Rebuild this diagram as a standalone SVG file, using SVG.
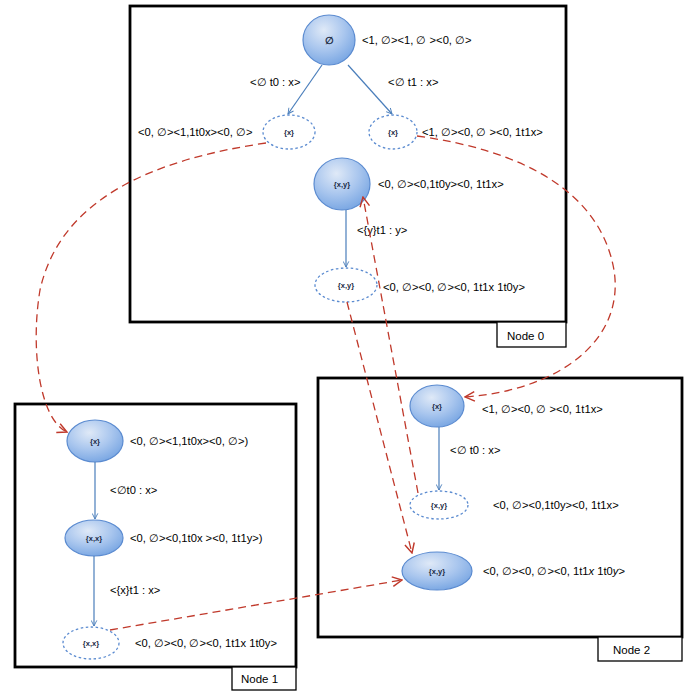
<svg xmlns="http://www.w3.org/2000/svg" width="692" height="696" viewBox="0 0 692 696">
<defs>
<radialGradient id="bl" cx="0.4" cy="0.3" r="0.8">
<stop offset="0" stop-color="#dfe9f7"/>
<stop offset="0.5" stop-color="#a9c6ee"/>
<stop offset="1" stop-color="#6e9fe0"/>
</radialGradient>
<marker id="ab" viewBox="0 0 10 10" refX="9" refY="5" markerWidth="7" markerHeight="7" orient="auto" markerUnits="userSpaceOnUse">
<path d="M1,1 L9,5 L1,9" fill="none" stroke="#4a7ebb" stroke-width="1.3"/>
</marker>
<marker id="ar" viewBox="0 0 10 10" refX="9" refY="5" markerWidth="12" markerHeight="12" orient="auto" markerUnits="userSpaceOnUse">
<path d="M1,1 L9,5 L1,9" fill="none" stroke="#c0392b" stroke-width="1.2"/>
</marker>
</defs>
<style>
.box{fill:none;stroke:#000;stroke-width:2.8}
.lbox{fill:#fff;stroke:#000;stroke-width:1.3}
.st{fill:url(#bl);stroke:#5b8bd0;stroke-width:1.2}
.ds{fill:#fff;stroke:#5b8bd0;stroke-width:1.3;stroke-dasharray:2.5 2.5}
.t{font-family:"Liberation Sans",Arial,sans-serif;font-size:11.2px;fill:#000}
.in{font-family:"Liberation Sans",Arial,sans-serif;font-size:7.5px;font-weight:bold;fill:#1a2a44;text-anchor:middle}
.nl{font-family:"Liberation Sans",Arial,sans-serif;font-size:11.5px;fill:#000}
.ba{stroke:#4a7ebb;stroke-width:1.2;fill:none;marker-end:url(#ab)}
.ra{stroke:#c0392b;stroke-width:1.3;fill:none;stroke-dasharray:8 5;marker-end:url(#ar)}
</style>
<rect width="692" height="696" fill="#fff"/>

<g id="node0-frame">
<rect class="box" x="130" y="6" width="436" height="316"/>
<rect class="lbox" x="497" y="322" width="69" height="25"/>
<text class="nl" x="507" y="340">Node 0</text>
</g>
<g id="node1-frame">
<rect class="box" x="15" y="404" width="281" height="263"/>
<rect class="lbox" x="232" y="667" width="64" height="23"/>
<text class="nl" x="241" y="683">Node 1</text>
</g>
<g id="node2-frame">
<rect class="box" x="318" y="378" width="364" height="259"/>
<rect class="lbox" x="598" y="637" width="84" height="24"/>
<text class="nl" x="613" y="654">Node 2</text>
</g>

<g id="n0-root">
<ellipse class="st" cx="329" cy="40" rx="26" ry="25"/>
<text class="in" x="329" y="44" style="font-size:10px">∅</text>
<text class="t" x="362" y="44">&lt;1, ∅&gt;&lt;1, ∅ &gt;&lt;0, ∅&gt;</text>
</g>
<g id="n0-x-left">
<ellipse class="ds" cx="289" cy="132" rx="26" ry="17"/>
<text class="in" x="289" y="135">{x}</text>
<text class="t" x="138" y="136">&lt;0, ∅&gt;&lt;1,1t0x&gt;&lt;0, ∅&gt;</text>
</g>
<g id="n0-x-right">
<ellipse class="ds" cx="393" cy="132" rx="24" ry="17"/>
<text class="in" x="393" y="135">{x}</text>
<text class="t" x="422" y="136">&lt;1, ∅&gt;&lt;0, ∅ &gt;&lt;0, 1t1x&gt;</text>
</g>
<g id="n0-xy">
<ellipse class="st" cx="342" cy="184" rx="28" ry="26"/>
<text class="in" x="342" y="187">{x,y}</text>
<text class="t" x="378" y="188">&lt;0, ∅&gt;&lt;0,1t0y&gt;&lt;0, 1t1x&gt;</text>
</g>
<g id="n0-xy-bottom">
<ellipse class="ds" cx="346" cy="285" rx="31" ry="17"/>
<text class="in" x="346" y="288">{x,y}</text>
<text class="t" x="383" y="291">&lt;0, ∅&gt;&lt;0, ∅&gt;&lt;0, 1t1x 1t0y&gt;</text>
</g>

<g id="n1-x">
<ellipse class="st" cx="95" cy="441" rx="28" ry="21"/>
<text class="in" x="95" y="444">{x}</text>
<text class="t" x="130" y="445">&lt;0, ∅&gt;&lt;1,1t0x&gt;&lt;0, ∅&gt;)</text>
</g>
<g id="n1-xx">
<ellipse class="st" cx="94" cy="538" rx="29" ry="18"/>
<text class="in" x="94" y="541">{x,x}</text>
<text class="t" x="130" y="542">&lt;0, ∅&gt;&lt;0,1t0x &gt;&lt;0, 1t1y&gt;)</text>
</g>
<g id="n1-xx-bottom">
<ellipse class="ds" cx="91" cy="643" rx="28" ry="16"/>
<text class="in" x="91" y="646">{x,x}</text>
<text class="t" x="135" y="647">&lt;0, ∅&gt;&lt;0, ∅&gt;&lt;0, 1t1x 1t0y&gt;</text>
</g>

<g id="n2-x">
<ellipse class="st" cx="437" cy="406" rx="27" ry="21"/>
<text class="in" x="437" y="409">{x}</text>
<text class="t" x="482" y="413">&lt;1, ∅&gt;&lt;0, ∅ &gt;&lt;0, 1t1x&gt;</text>
</g>
<g id="n2-xy">
<ellipse class="ds" cx="439" cy="505" rx="29" ry="14"/>
<text class="in" x="439" y="508">{x,y}</text>
<text class="t" x="493" y="509">&lt;0, ∅&gt;&lt;0,1t0y&gt;&lt;0, 1t1x&gt;</text>
</g>
<g id="n2-xy-bottom">
<ellipse class="st" cx="437" cy="571" rx="35" ry="19"/>
<text class="in" x="437" y="574">{x,y}</text>
<text class="t" x="483" y="575">&lt;0, ∅&gt;&lt;0, ∅&gt;&lt;0, 1t1<tspan font-style="italic">x</tspan> 1t0<tspan font-style="italic">y</tspan>&gt;</text>
</g>

<g id="connectors">
<line class="ba" x1="322" y1="65" x2="288" y2="114"/>
<line class="ba" x1="348" y1="65" x2="392" y2="114"/>
<line class="ba" x1="346" y1="210" x2="346" y2="267"/>
<line class="ba" x1="95" y1="462" x2="95" y2="519"/>
<line class="ba" x1="94" y1="556" x2="94" y2="626"/>
<line class="ba" x1="439" y1="427" x2="439" y2="490"/>
<text class="t" x="250" y="86">&lt;∅ t0 : x&gt;</text>
<text class="t" x="388" y="86">&lt;∅ t1 : x&gt;</text>
<text class="t" x="357" y="234">&lt;{y}t1 : y&gt;</text>
<text class="t" x="110" y="494">&lt;∅t0 : x&gt;</text>
<text class="t" x="110" y="594">&lt;{x}t1 : x&gt;</text>
<text class="t" x="450" y="454">&lt;∅ t0 : x&gt;</text>
<path class="ra" d="M266,143 C150,160 60,200 40,290 C30,350 40,420 67,432"/>
<path class="ra" d="M417,136 C520,150 600,190 614,270 C625,340 560,390 465,397"/>
<line class="ra" x1="347" y1="302" x2="412" y2="553"/>
<line class="ra" x1="418" y1="493" x2="363" y2="197"/>
<line class="ra" x1="110" y1="630" x2="402" y2="580"/>
</g>
</svg>
